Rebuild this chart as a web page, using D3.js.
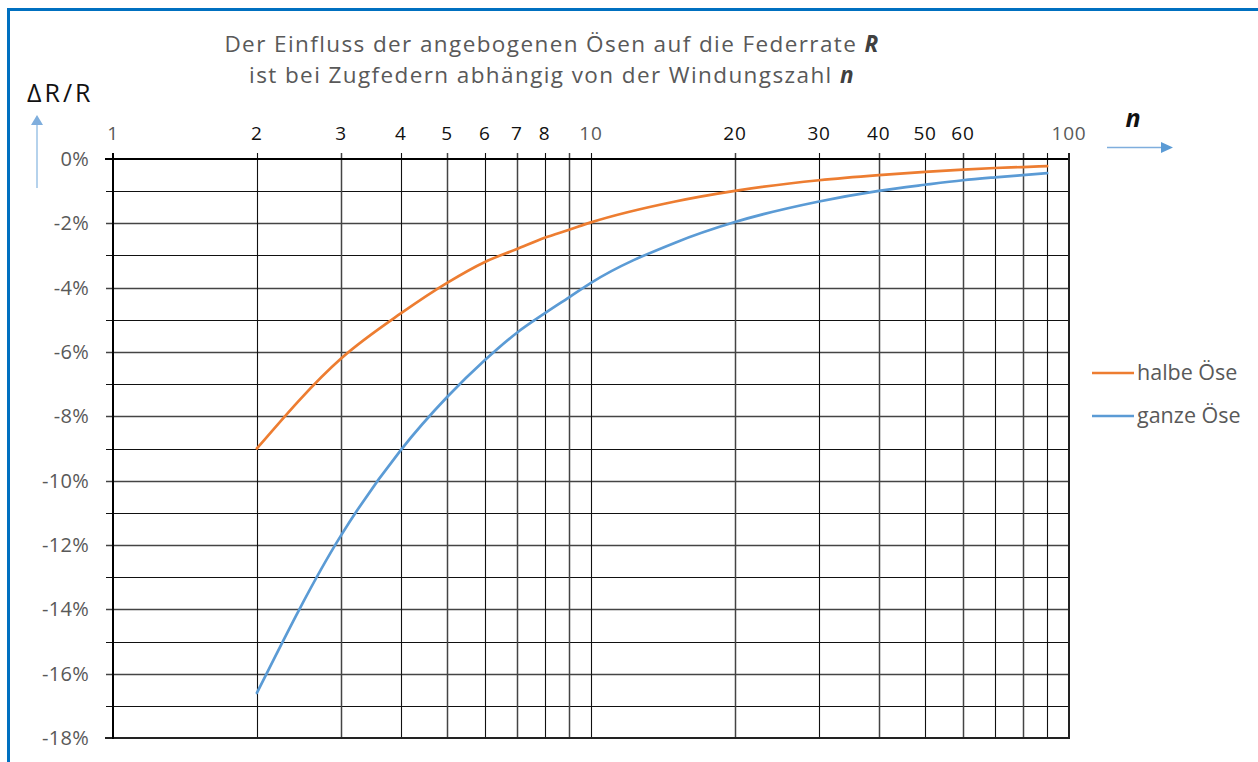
<!DOCTYPE html>
<html>
<head>
<meta charset="utf-8">
<script src="https://cdn.jsdelivr.net/npm/d3@7"></script>
<style>
  html, body { margin: 0; padding: 0; background: #fff; }
  svg { display: block; font-family: "Open Sans", "Noto Sans", sans-serif; }
</style>
</head>
<body>
<svg id="chart" width="1258" height="762"></svg>
<script>
// Windungszahl n (log axis) and the relative change of the spring rate in %
const windungen = [2, 3, 4, 5, 6, 7, 8, 9, 10, 15, 20, 30, 40, 50, 60, 70, 80, 90];
const halbeOese = [-9.0, -6.2, -4.8, -3.85, -3.2, -2.8, -2.45, -2.2, -1.97, -1.32, -0.99, -0.66, -0.5, -0.4, -0.33, -0.28, -0.25, -0.22];
const ganzeOese = [-16.6, -11.7, -9.05, -7.4, -6.25, -5.4, -4.8, -4.3, -3.85, -2.6, -1.96, -1.32, -0.99, -0.8, -0.66, -0.57, -0.5, -0.44];
const seriesNames = ["halbe Öse", "ganze Öse"];
const seriesColors = ["#ED7D31", "#5B9BD5"];
const xGridValues = [2, 3, 4, 5, 6, 7, 8, 9, 10, 20, 30, 40, 50, 60, 70, 80, 90];
const xTickLabels = [1, 2, 3, 4, 5, 6, 7, 8, 10, 20, 30, 40, 50, 60, 100];
const yTicks = [0, -2, -4, -6, -8, -10, -12, -14, -16, -18];

const svg = d3.select("#chart");
const plot = { left: 113, right: 1069, top: 159, bottom: 738 };

const x = d3.scaleLog().domain([1, 100]).range([plot.left, plot.right]);
const y = d3.scaleLinear().domain([0, -18]).range([plot.top, plot.bottom]);

// outer blue frame
svg.append("rect")
  .attr("x", 8.5).attr("y", 9.5)
  .attr("width", 1262).attr("height", 780)
  .attr("fill", "none").attr("stroke", "#0070C0").attr("stroke-width", 3);

// horizontal grid lines, one per percent
const g = svg.append("g");
g.selectAll("line.h")
  .data(d3.range(-1, -18, -1))
  .join("line")
  .attr("x1", plot.left - 7).attr("x2", plot.right)
  .attr("y1", d => Math.round(y(d)) + 0.5).attr("y2", d => Math.round(y(d)) + 0.5)
  .attr("stroke", d => d % 2 === 0 ? "#444" : "#111")
  .attr("stroke-width", d => d % 2 === 0 ? 1.5 : 1.1);

// vertical grid lines on the log axis
g.selectAll("line.v")
  .data(xGridValues)
  .join("line")
  .attr("x1", d => Math.round(x(d)) + 0.5).attr("x2", d => Math.round(x(d)) + 0.5)
  .attr("y1", plot.top - 6).attr("y2", plot.bottom)
  .attr("stroke", (d, i) => i % 2 === 0 ? "#111" : "#444")
  .attr("stroke-width", (d, i) => i % 2 === 0 ? 1.1 : 1.5);

// plot frame
g.append("line").attr("x1", plot.left - 8).attr("x2", plot.right + 1)
  .attr("y1", plot.top).attr("y2", plot.top).attr("stroke", "#000").attr("stroke-width", 2);
g.append("line").attr("x1", plot.left - 8).attr("x2", plot.right + 1)
  .attr("y1", plot.bottom).attr("y2", plot.bottom).attr("stroke", "#222").attr("stroke-width", 2);
g.append("line").attr("x1", plot.left).attr("x2", plot.left)
  .attr("y1", plot.top - 6).attr("y2", plot.bottom + 1).attr("stroke", "#000").attr("stroke-width", 2);
g.append("line").attr("x1", plot.right).attr("x2", plot.right)
  .attr("y1", plot.top - 6).attr("y2", plot.bottom + 1).attr("stroke", "#222").attr("stroke-width", 2);

// y axis labels
svg.append("g").selectAll("text")
  .data(yTicks)
  .join("text")
  .attr("x", 89).attr("y", d => y(d) + 7)
  .attr("text-anchor", "end")
  .attr("font-size", 20).attr("fill", "#595959")
  .attr("letter-spacing", 0.3)
  .text(d => d + "%");

// x axis labels above the plot
svg.append("g").selectAll("text")
  .data(xTickLabels)
  .join("text")
  .attr("x", d => x(d)).attr("y", 140)
  .attr("text-anchor", "middle")
  .attr("font-size", 19)
  .attr("letter-spacing", 0.8)
  .attr("fill", d => (d === 1 || d === 10 || d === 100) ? "#595959" : "#111")
  .text(d => d);

// curves
const line = d3.line()
  .x(d => x(d[0]))
  .y(d => y(d[1]))
  .curve(d3.curveMonotoneX);

[halbeOese, ganzeOese].forEach((vals, i) => {
  svg.append("path")
    .datum(windungen.map((n, k) => [n, vals[k]]))
    .attr("d", line)
    .attr("fill", "none")
    .attr("stroke", seriesColors[i])
    .attr("stroke-width", 2.7)
    .attr("stroke-linecap", "round");
});

// legend
const legend = svg.append("g");
seriesNames.forEach((name, i) => {
  const ly = 373 + i * 43;
  legend.append("line")
    .attr("x1", 1092).attr("x2", 1134).attr("y1", ly).attr("y2", ly)
    .attr("stroke", seriesColors[i]).attr("stroke-width", 2.7);
  legend.append("text")
    .attr("x", 1137).attr("y", ly + 7)
    .attr("font-size", 21.5).attr("fill", "#595959")
    .text(name);
});

// two-line title
const titleLines = [
  ["Der Einfluss der angebogenen Ösen auf die Federrate ", "R", 52],
  ["ist bei Zugfedern abhängig von der Windungszahl ", "n", 83]
];
titleLines.forEach(([txt, sym, ty]) => {
  const t = svg.append("text")
    .attr("x", 552).attr("y", ty)
    .attr("text-anchor", "middle")
    .attr("font-size", 22.5).attr("letter-spacing", 1.4)
    .attr("fill", "#595959");
  t.append("tspan").text(txt);
  t.append("tspan").attr("font-weight", "bold").attr("font-style", "italic")
    .attr("fill", "#404040").text(sym);
});

// axis captions with arrows
svg.append("text")
  .attr("x", 27).attr("y", 102)
  .attr("font-size", 25).attr("fill", "#111")
  .attr("letter-spacing", 3)
  .text("ΔR/R");

const arrowColor = "#7FAEDD";
svg.append("line")
  .attr("x1", 37).attr("x2", 37).attr("y1", 188).attr("y2", 124)
  .attr("stroke", "#9DC3E6").attr("stroke-width", 1.5);
svg.append("path")
  .attr("d", "M31,125 L37,115 L43,125 Z")
  .attr("fill", arrowColor);

svg.append("text")
  .attr("x", 1133).attr("y", 127)
  .attr("text-anchor", "middle")
  .attr("font-size", 25).attr("font-weight", "bold").attr("font-style", "italic")
  .attr("fill", "#111")
  .text("n");

svg.append("line")
  .attr("x1", 1107).attr("x2", 1163).attr("y1", 147.5).attr("y2", 147.5)
  .attr("stroke", arrowColor).attr("stroke-width", 1.5);
svg.append("path")
  .attr("d", "M1161,142 L1173,147.5 L1161,153 Z")
  .attr("fill", "#5B9BD5");
</script>
</body>
</html>
